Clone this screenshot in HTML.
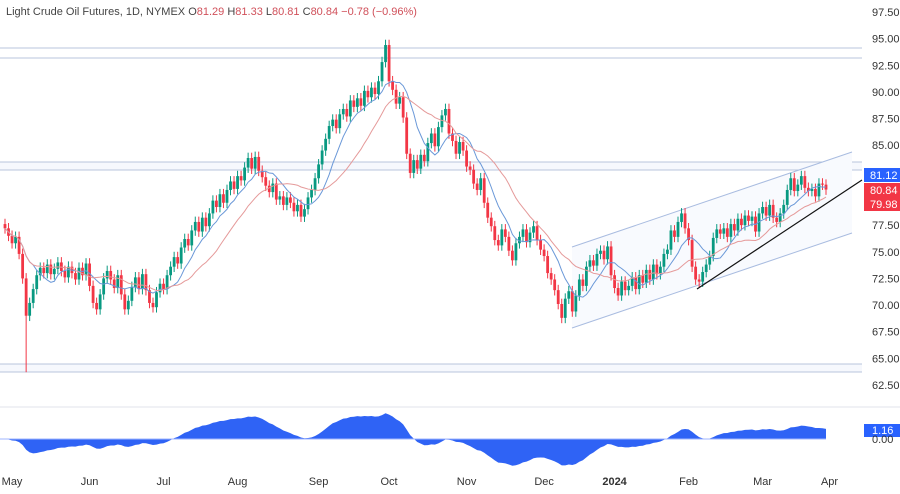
<!DOCTYPE html>
<html><head><meta charset="utf-8"><style>
body{margin:0;background:#fff;font-family:"Liberation Sans",sans-serif}
svg text{font-family:"Liberation Sans",sans-serif}
</style></head><body>
<svg id="c" width="900" height="489" xmlns="http://www.w3.org/2000/svg">
<rect width="900" height="489" fill="#fff"/>
<g id="static">
<line x1="0" y1="48" x2="862" y2="48" stroke="#b8c4dc"/>
<line x1="0" y1="58" x2="862" y2="58" stroke="#b8c4dc"/>
<rect x="0" y="162" width="862" height="8" fill="#f6f8fd"/>
<line x1="0" y1="162" x2="862" y2="162" stroke="#b8c4dc"/>
<line x1="0" y1="170" x2="862" y2="170" stroke="#b8c4dc"/>
<rect x="0" y="364" width="862" height="8" fill="#f6f8fd"/>
<line x1="0" y1="364" x2="862" y2="364" stroke="#b8c4dc"/>
<line x1="0" y1="372" x2="862" y2="372" stroke="#b8c4dc"/>
<polygon points="572,247 852,152 852,233 572,328" fill="#f8fafe"/>
<line x1="572" y1="247" x2="852" y2="152" stroke="#a9bce0"/>
<line x1="572" y1="328" x2="852" y2="233" stroke="#a9bce0"/>
<line x1="0" y1="407" x2="900" y2="407" stroke="#e0e3eb"/>
</g>
<g id="marks"></g>
<line x1="697" y1="289" x2="862" y2="180" stroke="#111" stroke-width="1.2"/>
<text x="6" y="15" font-size="11" fill="#444">Light Crude Oil Futures, 1D, NYMEX <tspan fill="#444">O</tspan><tspan fill="#d0505a">81.29</tspan> <tspan fill="#444">H</tspan><tspan fill="#d0505a">81.33</tspan> <tspan fill="#444">L</tspan><tspan fill="#d0505a">80.81</tspan> <tspan fill="#444">C</tspan><tspan fill="#d0505a">80.84 −0.78 (−0.96%)</tspan></text>
<g id="yaxis" font-size="11" fill="#333"></g>
<g><rect x="864" y="168" width="36" height="14" fill="#2962ff"/><text x="870" y="179" font-size="11" fill="#fff">81.12</text></g>
<g><rect x="864" y="183" width="36" height="14" fill="#f23645"/><text x="870" y="194" font-size="11" fill="#fff">80.84</text></g>
<g><rect x="864" y="197" width="36" height="14" fill="#f23645"/><text x="870" y="208" font-size="11" fill="#fff">79.98</text></g>
<g><rect x="864" y="424" width="36" height="13" fill="#2962ff"/><text x="872" y="434" font-size="11" fill="#fff">1.16</text></g>
<text x="872" y="443" font-size="11" fill="#333">0.00</text>
<g id="xaxis" font-size="11" fill="#333"></g>
</svg>
<script>
const closes=[77.2,76.5,75.8,76.4,74.8,72.5,69.0,70.2,71.5,72.8,
73.5,73.0,73.8,72.9,73.4,74.0,73.2,72.6,73.6,73.0,
72.4,73.5,72.8,73.9,71.8,70.2,69.6,71.0,72.5,73.2,
72.4,71.6,72.8,71.0,69.6,70.4,71.7,72.6,71.5,72.9,
71.4,70.2,69.8,71.2,72.0,71.5,72.8,73.6,74.5,73.9,
75.4,76.2,75.6,77.0,77.8,76.9,78.2,77.4,78.6,79.8,
79.2,80.4,79.6,80.8,81.6,80.9,82.1,81.7,82.9,83.8,
82.8,83.9,82.6,82.0,81.2,80.6,81.4,79.9,80.2,79.4,
80.1,79.6,78.8,79.4,78.3,79.0,80.1,80.8,81.9,83.2,
84.5,85.6,86.8,87.4,86.6,87.9,88.4,87.7,89.2,88.6,
89.4,88.7,90.1,89.5,90.4,89.8,91.0,92.8,94.4,91.0,
90.2,88.9,89.5,87.6,84.2,82.4,83.6,82.8,84.1,83.5,
85.2,86.1,84.9,86.7,87.8,88.4,86.1,85.4,84.2,85.3,
84.5,83.0,82.7,81.4,80.8,81.9,79.6,78.2,77.4,76.1,
75.6,77.1,76.4,75.1,74.2,75.8,76.4,77.1,75.9,76.8,
77.4,76.1,75.2,74.6,73.0,72.4,71.4,70.1,68.8,70.6,
71.3,69.4,70.9,72.4,71.8,73.6,74.2,73.7,74.8,75.1,
74.3,75.5,72.8,71.6,70.9,72.2,71.4,71.8,72.6,71.5,
72.8,72.1,73.3,72.4,73.8,72.9,73.6,74.8,75.2,77.0,
76.4,77.8,78.6,77.2,76.1,73.6,72.4,72.2,73.1,73.8,
74.6,76.3,77.1,76.7,77.2,76.4,77.6,77.0,78.1,77.5,
78.4,77.9,78.3,76.9,78.6,79.2,78.4,79.4,78.2,77.8,
78.6,79.4,80.8,81.9,80.7,81.3,82.1,81.0,80.7,80.9,
80.2,81.4,81.3,80.84];
const yTicks=[97.5,95,92.5,90,87.5,85,82.5,80,77.5,75,72.5,70,67.5,65,62.5];
const monthLabels=["May","Jun","Jul","Aug","Sep","Oct","Nov","Dec","2024","Feb","Mar","Apr"];
const monthIdx=[2,24,45,66,89,109,131,153,173,194,215,234];

const NS="http://www.w3.org/2000/svg";
const x0=5, step=821/(closes.length-1);
const X=i=>x0+i*step;
const Y=p=>12+(97.5-p)*10.657;
const OY=v=>439-v*9.5;
function mk(t,a,parent){const e=document.createElementNS(NS,t);for(const k in a)e.setAttribute(k,a[k]);parent.appendChild(e);return e;}
const g=document.getElementById('marks');
for(let i=0;i<closes.length;i++){
  const o=i?closes[i-1]:closes[0]+0.4, c=closes[i];
  const up=c>=o, col=up?'#089981':'#f23645';
  const hi=Math.max(o,c)+0.5, lo=Math.min(o,c)-0.5;
  const w=mk('line',{x1:X(i),x2:X(i),y1:Y(hi),y2:Y(i==6?63.7:lo),stroke:col,'stroke-width':1},g);
  
  
  const top=Y(Math.max(o,c)), h=Math.max(1,Math.abs(Y(o)-Y(c)));
  const b=mk('rect',{x:X(i)-1.4,y:top,width:2.8,height:h,fill:col},g);
  
  
}
function ema(arr,n){const k=2/(n+1);let out=[],v=arr[0];arr.forEach(a=>{v=a*k+v*(1-k);out.push(v)});return out;}
function sma(arr,n){return arr.map((a,i)=>{const s=arr.slice(Math.max(0,i-n+1),i+1);return s.reduce((p,q)=>p+q,0)/s.length;});}
const fast=sma(closes,9), slow=sma(closes,20);
[[fast,'#6a98d8','ma-fast'],[slow,'#e59a9a','ma-slow']].forEach(([s,col,nm])=>{
  const p=mk('polyline',{points:s.map((v,i)=>X(i)+','+Y(v)).join(' '),fill:'none',stroke:col,'stroke-width':1},g);
  
  
});
const e12=ema(closes,12), e26=ema(closes,26);
const osc=e12.map((v,i)=>v-e26[i]);
let pts='0,'+OY(0)+' '+osc.map((v,i)=>X(i)+','+OY(v)).join(' ')+' '+X(osc.length-1)+','+OY(0);
const a=mk('polygon',{points:pts,fill:'#2f63f5'},g);


const zl=mk('line',{x1:0,x2:X(osc.length-1),y1:OY(0),y2:OY(0),stroke:'#9fb4ff'},g);


const ya=document.getElementById('yaxis');
yTicks.forEach(t=>{if(t===82.5)return;const e=mk('text',{x:872,y:Y(t)+4},ya);e.textContent=t.toFixed(2);

});
const xa=document.getElementById('xaxis');
monthLabels.forEach((m,j)=>{const e=mk('text',{x:X(monthIdx[j]),y:485,'text-anchor':'middle'},xa);e.textContent=m;
if(m==='2024')e.setAttribute('font-weight','bold');

});
</script>
</body></html>
